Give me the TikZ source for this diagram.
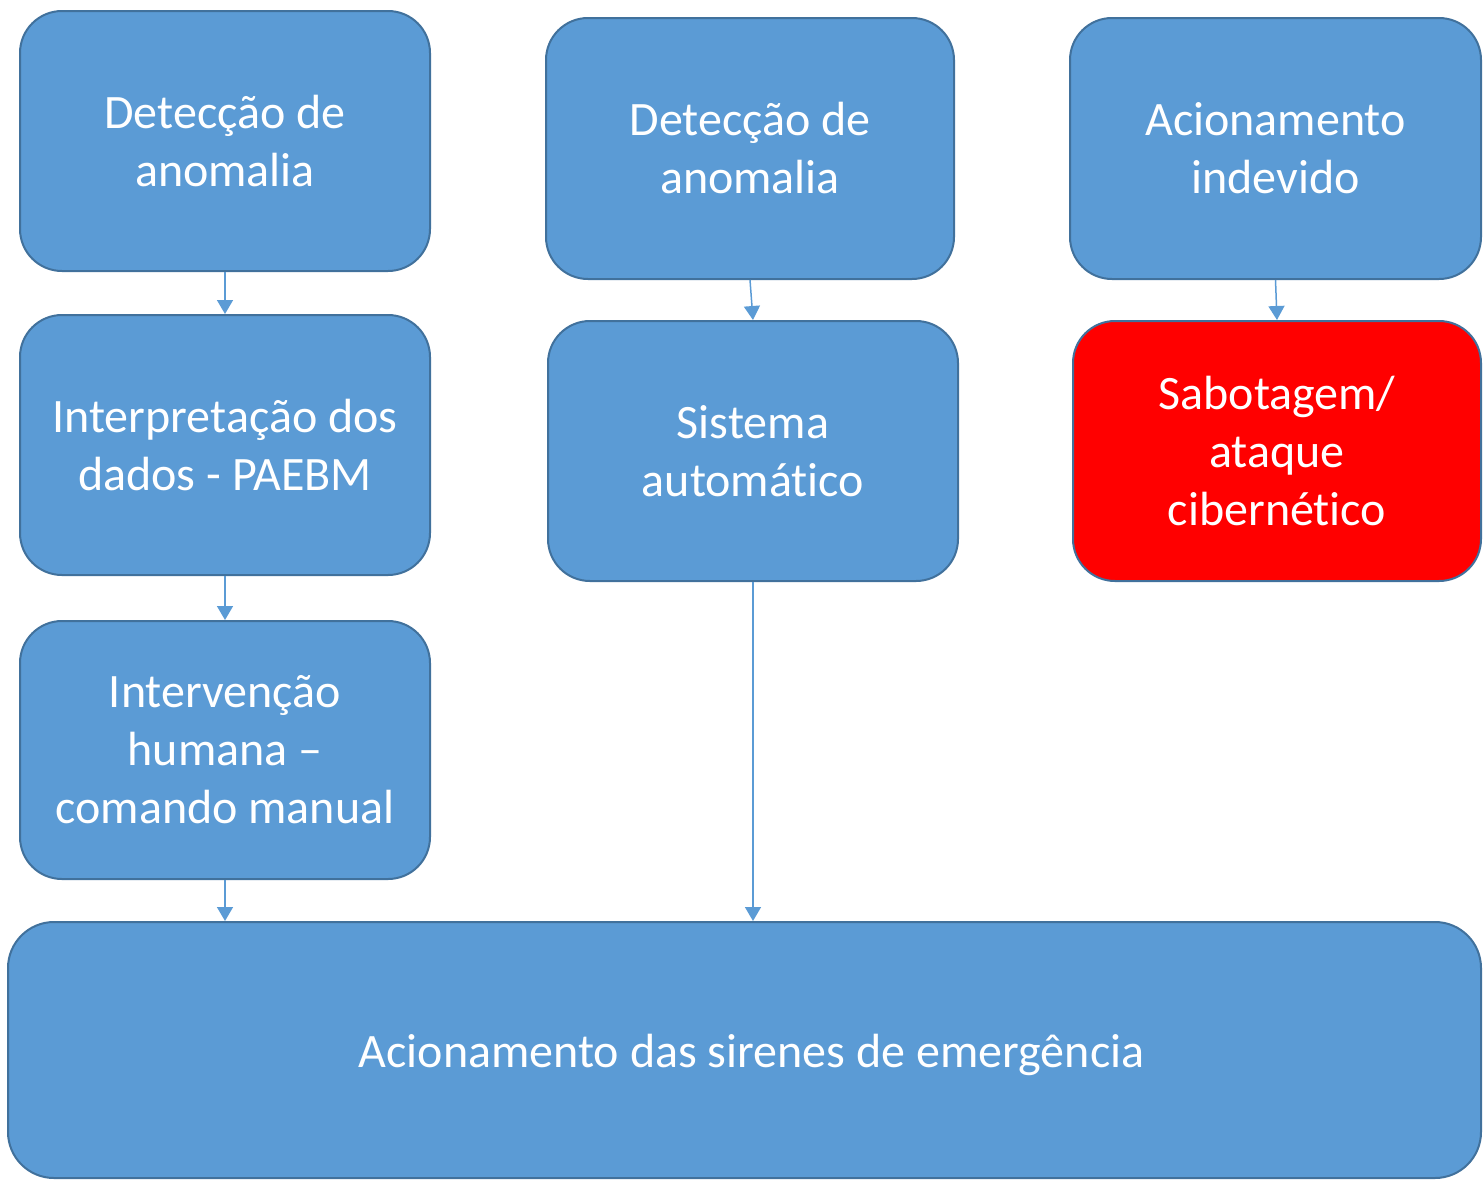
\documentclass[tikz,border=0pt]{standalone}
\usepackage{fontspec}
\setmainfont{Carlito}[Ligatures=NoCommon]
\usetikzlibrary{arrows.meta}
\definecolor{boxfill}{HTML}{5B9BD5}
\definecolor{boxline}{HTML}{41719C}
\definecolor{alarm}{HTML}{FF0000}
\tikzset{
  box/.style={draw=boxline, line width=2pt, fill=boxfill, rounded corners=42pt,
    text=white, align=center, inner sep=0pt,
    font=\fontsize{48}{58}\selectfont},
  conn/.style={draw=boxfill, line width=1.5pt, -{Triangle[length=14pt,width=16pt]}}
}
\begin{document}
\begin{tikzpicture}[x=1pt,y=-1pt]
\useasboundingbox (0,0) rectangle (1483,1179);
\node[box, minimum width=410pt, minimum height=260pt] (L1) at (225,141) {Detecção de\\anomalia};
\node[box, minimum width=410pt, minimum height=260pt] (L2) at (225,445) {Interpretação dos\\dados - PAEBM};
\node[box, minimum width=410pt, minimum height=258pt] (L3) at (225,750) {Intervenção\\humana –\\comando manual};
\node[box, minimum width=408pt, minimum height=261pt] (M1) at (750,148.5) {Detecção de\\anomalia};
\node[box, minimum width=410pt, minimum height=260pt] (M2) at (753,451) {Sistema\\automático};
\node[box, minimum width=411pt, minimum height=261pt] (R1) at (1275.5,148.5) {Acionamento\\indevido};
\node[box, fill=alarm, minimum width=408pt, minimum height=260pt] (R2) at (1277,451) {Sabotagem/\\ataque\\cibernético};
\node[box, rounded corners=46pt, minimum width=1473pt, minimum height=256pt] (B) at (744.5,1050) {\hspace*{14pt}\raisebox{-17pt}[0pt][0pt]{Acionamento das sirenes de emergência}};
\draw[conn] (L1.south) -- (L2.north);
\draw[conn] (L2.south) -- (L3.north);
\draw[conn] (M1.south) -- (M2.north);
\draw[conn] (R1.south) -- (R2.north);
\draw[conn] (L3.south) -- (L3.south |- B.north);
\draw[conn] (M2.south) -- (M2.south |- B.north);
\end{tikzpicture}
\end{document}
